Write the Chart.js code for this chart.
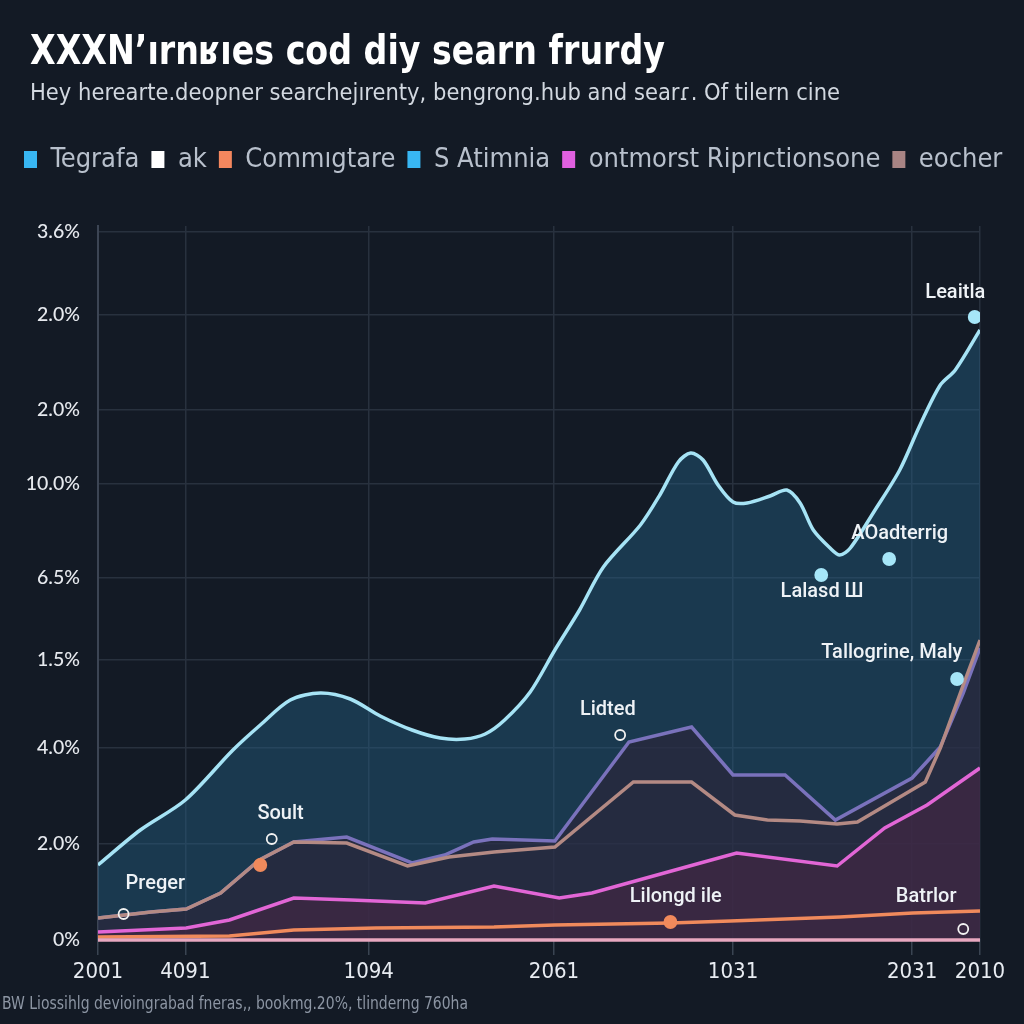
<!DOCTYPE html>
<html>
<head>
<meta charset="utf-8">
<script src="https://cdn.jsdelivr.net/npm/chart.js@4.4.1/dist/chart.umd.min.js"></script>
<style>
  html, body { margin: 0; padding: 0; background: #131a25; }
  canvas { display: block; }
</style>
</head>
<body>
<canvas id="chart" width="1024" height="1024"></canvas>
<script>
const titleText = "XXXN’ırnʁıes cod diy searn frurdy";
const subtitleText = "Hey herearte.deopner searchejırenty, bengrong.hub and searɾ. Of tilern cine";
const footerText = "BW Liossihlg devioingrabad fneras,, bookmg.20%, tlinderng 760ha";

const legendLabels = ["Tegrafa", "ak", "Commıgtare", "S Atimnia", "ontmorst Riprıctionsone", "eocher"];
const legendColors = ["#38b6f2", "#ffffff", "#f4875e", "#38b6f2", "#e060e0", "#a88484"];

const xTickValues = [0, 9.9, 30.7, 51.7, 72.0, 92.3, 100];
const xTickLabels = ["2001", "4091", "1094", "2061", "1031", "2031", "2010"];
const yTickValues = [0, 9.6, 19.2, 28.0, 36.2, 45.6, 53.0, 62.5, 70.8];
const yTickLabels = ["0%", "2.0%", "4.0%", "1.5%", "6.5%", "10.0%", "2.0%", "2.0%", "3.6%"];

const cyanX = [0, 4.8, 9.9, 15.3, 18.4, 21.8, 25.2, 28.6, 32.0, 35.6, 38.8, 41.6, 43.9, 46.1, 49.0, 51.8, 54.6, 57.3, 61.5, 63.7, 65.8, 67.2, 68.6, 70.3, 72.0, 73.6, 76.2, 78.1, 79.6, 81.1, 83.0, 84.1, 85.3, 88.1, 90.9, 93.2, 95.5, 97.2, 100];
const cyanY = [7.5, 11.0, 14.0, 19.0, 21.5, 24.0, 24.7, 24.1, 22.4, 21.0, 20.2, 20.1, 20.6, 22.0, 24.8, 29.0, 33.0, 37.3, 41.5, 44.5, 47.8, 48.7, 48.0, 45.5, 43.8, 43.7, 44.4, 45.0, 43.7, 41.0, 39.2, 38.5, 39.2, 43.0, 47.0, 51.5, 55.5, 57.0, 61.0];

const purpleX = [0, 6.0, 10.0, 13.9, 18.3, 22.2, 28.2, 35.6, 39.3, 42.6, 44.7, 51.8, 60.2, 67.3, 72.0, 77.9, 83.6, 92.3, 95.5, 98.1, 100];
const purpleY = [2.2, 2.8, 3.1, 4.7, 8.0, 9.8, 10.3, 7.7, 8.5, 9.8, 10.1, 9.9, 19.8, 21.3, 16.5, 16.5, 12.0, 16.2, 19.3, 24.7, 29.2];

const brownX = [0, 6.0, 10.0, 13.9, 18.3, 22.2, 28.2, 35.1, 39.8, 44.9, 51.8, 60.7, 67.3, 72.2, 75.9, 79.6, 83.8, 86.1, 93.8, 95.5, 98.1, 100];
const brownY = [2.2, 2.8, 3.1, 4.7, 8.0, 9.8, 9.7, 7.4, 8.3, 8.8, 9.3, 15.8, 15.8, 12.5, 12.0, 11.9, 11.6, 11.8, 15.8, 19.2, 25.5, 30.0];

const pinkX = [0, 10.0, 14.9, 22.2, 28.7, 37.1, 44.9, 52.3, 56.0, 68.3, 72.4, 83.8, 89.2, 94.0, 100];
const pinkY = [0.8, 1.2, 2.0, 4.2, 4.0, 3.7, 5.4, 4.2, 4.7, 7.7, 8.7, 7.4, 11.2, 13.5, 17.2];

const orangeX = [0, 14.9, 22.2, 31.5, 44.9, 51.8, 64.9, 71.7, 84.1, 92.4, 100];
const orangeY = [0.3, 0.4, 1.0, 1.2, 1.3, 1.5, 1.7, 1.9, 2.3, 2.7, 2.9];

const baseX = [0, 100];
const baseY = [0, 0];

const cyanDotX = [99.4, 89.7, 82.0, 97.4];
const cyanDotY = [62.3, 38.1, 36.5, 26.1];
const ringDotX = [59.2, 19.7, 2.9, 98.1];
const ringDotY = [20.5, 10.1, 2.6, 1.1];
const orangeDotX = [18.4, 64.9];
const orangeDotY = [7.5, 1.8];

const noteLabels = ["Leaitla", "AOadterrig", "Lalasd Ш", "Tallogrine, Maly", "Lidted", "Soult", "Preger", "Lilongd ile", "Batrlor"];
const noteX = [97.2, 90.9, 82.1, 90.0, 57.8, 20.7, 6.5, 65.5, 93.9];
const noteY = [64.7, 40.6, 34.8, 28.7, 23.0, 12.6, 5.6, 4.3, 4.3];

const zip = (xs, ys) => xs.map((v, i) => ({ x: v, y: ys[i] }));

const condensed = "'DejaVu Sans Condensed', 'Liberation Sans Narrow', sans-serif";

// draw a text squeezed to the width it has in the picture
function drawFitted(ctx, text, font, x, y, width) {
  ctx.save();
  ctx.font = font;
  const w = ctx.measureText(text).width;
  ctx.translate(x, y);
  ctx.scale(width / w, 1);
  ctx.fillText(text, 0, 0);
  ctx.restore();
}

const headerPlugin = {
  id: "header",
  afterDraw(chart) {
    const ctx = chart.ctx;
    ctx.save();
    ctx.textAlign = "left";
    ctx.textBaseline = "middle";
    ctx.fillStyle = "#ffffff";
    drawFitted(ctx, titleText, "bold 41px " + condensed, 30, 53, 635);
    ctx.fillStyle = "#d2d8e0";
    drawFitted(ctx, subtitleText, "23px " + condensed, 30, 94, 810);
    ctx.fillStyle = "#8c95a3";
    drawFitted(ctx, footerText, "17px " + condensed, 2, 1005, 466);
    ctx.restore();
  }
};

const notesPlugin = {
  id: "notes",
  afterDatasetsDraw(chart) {
    const { ctx, scales: { x, y } } = chart;
    ctx.save();
    ctx.font = "500 20px Roboto, 'Noto Sans', sans-serif";
    ctx.fillStyle = "#eef2f6";
    ctx.textAlign = "center";
    ctx.textBaseline = "middle";
    noteLabels.forEach((t, i) => {
      ctx.fillText(t, x.getPixelForValue(noteX[i]), y.getPixelForValue(noteY[i]));
    });
    ctx.restore();
  }
};

function line(label, xs, ys, color, fill, order, extra) {
  return Object.assign({
    label,
    data: zip(xs, ys),
    xAxisID: "x",
    yAxisID: "y",
    borderColor: color,
    borderWidth: 3.5,
    backgroundColor: fill || "transparent",
    fill: fill ? "origin" : false,
    pointRadius: 0,
    tension: 0,
    order
  }, extra || {});
}

function dots(xs, ys, bg, border, r) {
  return {
    data: zip(xs, ys),
    xAxisID: "x",
    yAxisID: "y",
    showLine: false,
    pointRadius: r,
    pointBackgroundColor: bg,
    pointBorderColor: border,
    pointBorderWidth: 1.8,
    order: 0
  };
}

// empty axes that only hold space, so the plot sits where it does in the picture
const spacer = (position, size) => ({
  type: "linear",
  position,
  min: 0,
  max: 1,
  grid: { display: false },
  border: { display: false },
  ticks: { display: false },
  afterFit(s) { if (position === "top") s.height = size; else s.width = size; }
});

new Chart(document.getElementById("chart"), {
  type: "line",
  data: {
    datasets: [
      line("cyan", cyanX, cyanY, "#a6e3f5", "rgba(35,95,130,0.45)", 6, { tension: 0.3 }),
      line("purple", purpleX, purpleY, "#7a72bc", "rgba(45,35,55,0.6)", 5),
      line("brown", brownX, brownY, "#b48a84", null, 4),
      line("pink", pinkX, pinkY, "#e266d6", "rgba(72,39,69,0.6)", 3),
      line("orange", orangeX, orangeY, "#f08a5c", null, 2),
      line("base", baseX, baseY, "#e8a8c0", null, 1, { clip: 6 }),
      dots(cyanDotX, cyanDotY, "#a6e6f8", "#a6e6f8", 6),
      dots(ringDotX, ringDotY, "transparent", "#f2f2f2", 5),
      dots(orangeDotX, orangeDotY, "#f08a5c", "#f08a5c", 6)
    ]
  },
  options: {
    responsive: false,
    animation: false,
    layout: { padding: { top: 134, left: 12, right: 4, bottom: 32 } },
    plugins: {
      tooltip: { enabled: false },
      legend: {
        position: "top",
        align: "start",
        onClick: null,
        labels: {
          color: "#b8c0cc",
          font: { family: condensed, size: 27 },
          boxWidth: 13,
          boxHeight: 17,
          padding: 12,
          generateLabels: () => legendLabels.map((t, i) => ({
            text: t,
            fillStyle: legendColors[i],
            strokeStyle: legendColors[i],
            lineWidth: 0,
            fontColor: "#b8c0cc",
            hidden: false,
            datasetIndex: i
          }))
        }
      }
    },
    scales: {
      x: {
        type: "linear",
        min: 0,
        max: 100,
        afterBuildTicks(s) { s.ticks = xTickValues.map(v => ({ value: v })); },
        afterFit(s) { s.height = 52; },
        grid: { color: "#28313e", lineWidth: 1.5, tickColor: "#3a4452", tickLength: 15 },
        border: { color: "#3c4554", width: 2 },
        ticks: {
          autoSkip: false,
          maxRotation: 0,
          padding: 4,
          color: "#e8ecf2",
          font: { family: condensed, size: 22 },
          callback: (v, i) => xTickLabels[i]
        }
      },
      gapTop: spacer("top", 43),
      gapRight: spacer("right", 40),
      y: {
        type: "linear",
        min: 0,
        max: 71.4,
        afterBuildTicks(s) { s.ticks = yTickValues.map(v => ({ value: v })); },
        afterFit(s) { s.width = 86; },
        grid: { color: "#28313e", lineWidth: 1.5, drawTicks: false },
        border: { color: "#3c4554", width: 2 },
        ticks: {
          autoSkip: false,
          padding: 18,
          color: "#e6e9ee",
          font: { family: "Lato, 'Noto Sans', sans-serif", size: 19.5, weight: "500" },
          callback: (v, i) => yTickLabels[i]
        }
      }
    }
  },
  plugins: [headerPlugin, notesPlugin]
});
</script>
</body>
</html>
